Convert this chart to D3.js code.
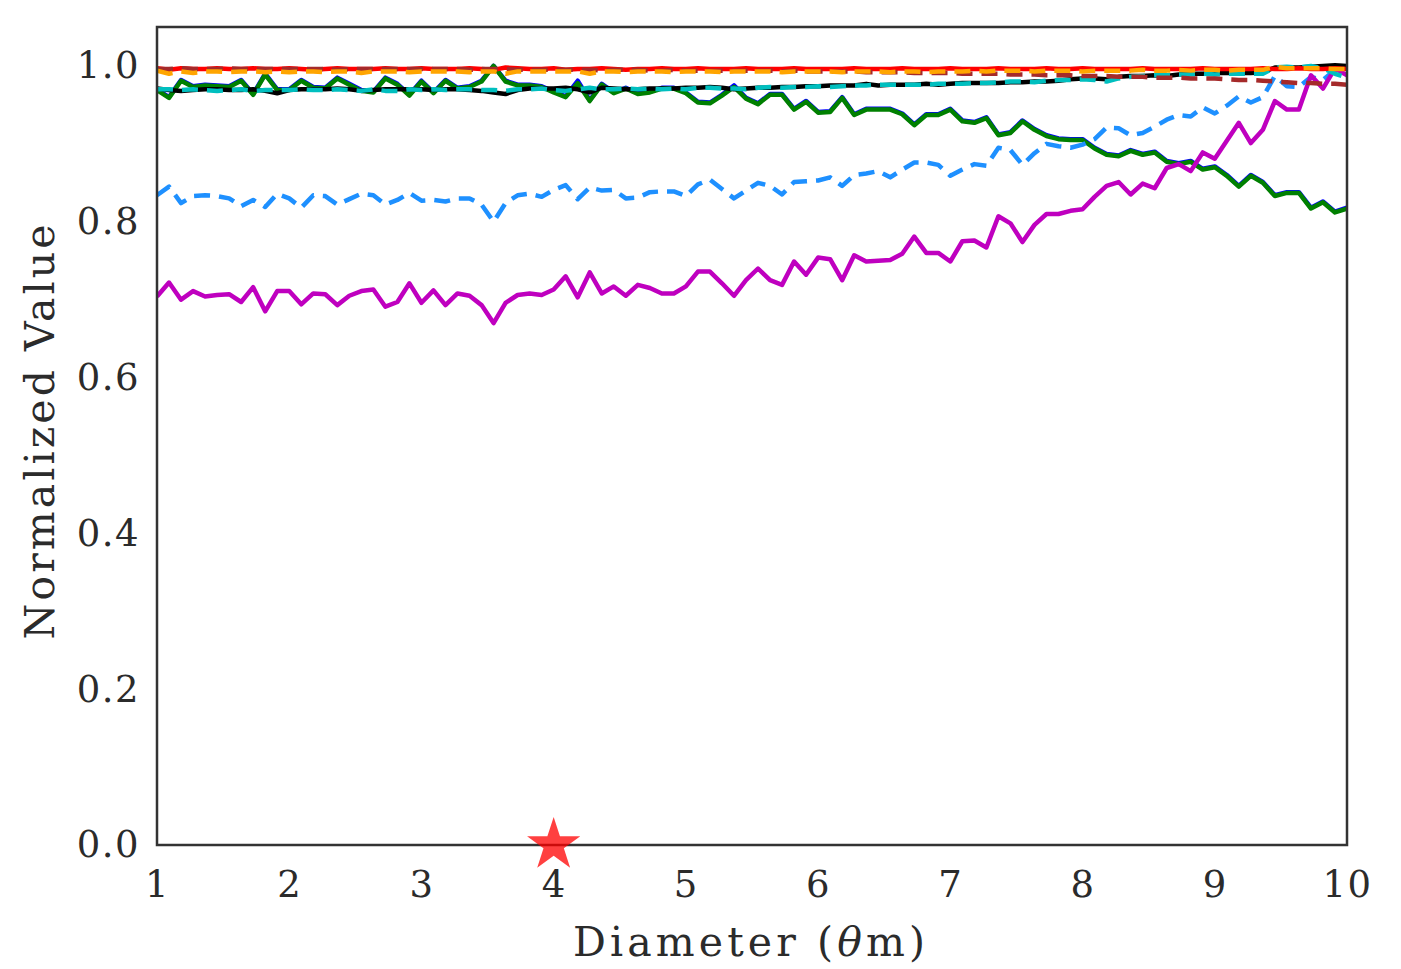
<!DOCTYPE html>
<html><head><meta charset="utf-8">
<script src="https://cdn.jsdelivr.net/npm/d3@7"></script>
<style>body{margin:0;background:#fff;} svg{display:block;}</style>
</head><body>
<svg id="chart" width="1401" height="969"></svg>
<script>
const xTicks = [1,2,3,4,5,6,7,8,9,10];
const yTicks = [0.0,0.2,0.4,0.6,0.8,1.0];
const nPts = 100;
const diameters = d3.range(nPts).map(i => 1 + i*9/(nPts-1));

const blueVals = [0.970,0.960,0.982,0.974,0.976,0.975,0.974,0.982,0.964,0.990,
0.970,0.970,0.982,0.973,0.972,0.985,0.977,0.969,0.967,0.985,
0.977,0.963,0.981,0.966,0.982,0.972,0.974,0.981,1.000,0.981,
0.976,0.976,0.974,0.967,0.961,0.981,0.956,0.977,0.966,0.972,
0.965,0.967,0.972,0.972,0.966,0.954,0.953,0.963,0.975,0.959,
0.952,0.964,0.964,0.945,0.955,0.941,0.942,0.960,0.938,0.945,
0.945,0.945,0.939,0.925,0.938,0.938,0.945,0.930,0.928,0.934,
0.912,0.915,0.930,0.919,0.911,0.907,0.906,0.906,0.895,0.887,
0.885,0.892,0.887,0.890,0.878,0.875,0.878,0.868,0.871,0.860,
0.846,0.860,0.851,0.834,0.838,0.838,0.818,0.826,0.813,0.818];
const greenVals = [0.969,0.959,0.981,0.973,0.975,0.974,0.973,0.981,0.963,0.989,
0.969,0.969,0.981,0.972,0.971,0.984,0.976,0.968,0.966,0.984,
0.976,0.962,0.980,0.965,0.981,0.971,0.973,0.980,1.000,0.980,
0.975,0.975,0.973,0.966,0.960,0.978,0.955,0.976,0.965,0.971,
0.964,0.966,0.971,0.971,0.965,0.953,0.952,0.962,0.973,0.958,
0.951,0.963,0.963,0.944,0.954,0.940,0.941,0.959,0.937,0.944,
0.944,0.944,0.938,0.924,0.937,0.937,0.944,0.929,0.927,0.933,
0.911,0.914,0.929,0.918,0.910,0.906,0.905,0.905,0.894,0.886,
0.884,0.891,0.886,0.889,0.877,0.874,0.877,0.867,0.870,0.859,
0.845,0.859,0.850,0.833,0.837,0.837,0.817,0.825,0.812,0.817];
const dodgerVals = [0.834,0.845,0.824,0.833,0.834,0.833,0.830,0.820,0.828,0.819,
0.836,0.830,0.818,0.834,0.833,0.822,0.829,0.836,0.834,0.822,
0.828,0.837,0.827,0.828,0.826,0.830,0.830,0.822,0.800,0.824,
0.834,0.836,0.832,0.841,0.847,0.829,0.844,0.840,0.841,0.830,
0.831,0.838,0.839,0.839,0.833,0.848,0.854,0.842,0.830,0.840,
0.850,0.846,0.835,0.851,0.852,0.853,0.857,0.846,0.860,0.862,
0.865,0.857,0.867,0.876,0.876,0.873,0.859,0.867,0.874,0.872,
0.895,0.892,0.873,0.888,0.900,0.897,0.895,0.899,0.906,0.921,
0.920,0.911,0.914,0.922,0.931,0.937,0.935,0.947,0.939,0.949,
0.961,0.953,0.960,0.987,0.974,0.973,0.986,0.982,0.995,0.999];
const magentaVals = [0.704,0.722,0.700,0.711,0.704,0.706,0.707,0.697,0.716,0.685,
0.711,0.711,0.694,0.708,0.707,0.693,0.705,0.711,0.713,0.691,
0.697,0.721,0.696,0.712,0.693,0.708,0.705,0.693,0.670,0.696,
0.706,0.708,0.706,0.713,0.730,0.703,0.735,0.708,0.717,0.705,
0.719,0.715,0.708,0.708,0.717,0.736,0.736,0.721,0.705,0.725,
0.740,0.725,0.719,0.749,0.732,0.754,0.752,0.725,0.757,0.749,
0.750,0.751,0.759,0.781,0.760,0.760,0.749,0.775,0.776,0.767,
0.807,0.798,0.774,0.796,0.810,0.810,0.814,0.816,0.832,0.846,
0.851,0.835,0.849,0.843,0.869,0.874,0.865,0.889,0.881,0.904,
0.927,0.901,0.918,0.955,0.944,0.944,0.988,0.971,0.997,0.988];
const blackVals = [0.971,0.969,0.968,0.969,0.970,0.970,0.969,0.969,0.970,0.968,
0.965,0.969,0.970,0.970,0.970,0.971,0.970,0.968,0.969,0.970,
0.970,0.970,0.970,0.969,0.970,0.970,0.969,0.968,0.966,0.964,
0.969,0.971,0.971,0.971,0.972,0.970,0.966,0.972,0.971,0.970,
0.970,0.971,0.971,0.971,0.972,0.972,0.973,0.972,0.970,0.971,
0.972,0.972,0.973,0.973,0.974,0.974,0.975,0.975,0.975,0.977,
0.975,0.976,0.976,0.976,0.977,0.976,0.977,0.978,0.978,0.978,
0.978,0.979,0.979,0.980,0.980,0.981,0.983,0.984,0.984,0.983,
0.986,0.987,0.987,0.988,0.987,0.989,0.990,0.990,0.991,0.991,
0.991,0.991,0.992,0.998,0.998,0.998,0.999,1.000,1.001,1.000];
const cyanVals = [0.970,0.970,0.969,0.970,0.969,0.968,0.969,0.970,0.968,0.969,
0.969,0.969,0.970,0.969,0.969,0.970,0.969,0.968,0.970,0.968,
0.968,0.970,0.969,0.970,0.969,0.970,0.970,0.969,0.969,0.968,
0.970,0.970,0.971,0.969,0.968,0.970,0.972,0.970,0.970,0.971,
0.970,0.971,0.970,0.971,0.970,0.972,0.972,0.971,0.971,0.970,
0.972,0.973,0.972,0.973,0.973,0.974,0.973,0.974,0.975,0.975,
0.976,0.976,0.976,0.976,0.976,0.977,0.977,0.977,0.978,0.978,
0.979,0.980,0.980,0.979,0.981,0.982,0.982,0.983,0.982,0.980,
0.984,0.986,0.987,0.988,0.988,0.989,0.989,0.990,0.989,0.990,
0.990,0.990,0.990,0.998,0.999,0.998,1.000,0.997,0.990,0.985];
const redVals = [0.997,0.995,0.997,0.996,0.996,0.997,0.996,0.996,0.997,0.996,
0.996,0.997,0.996,0.995,0.996,0.997,0.996,0.996,0.996,0.997,
0.996,0.996,0.997,0.996,0.996,0.996,0.997,0.996,0.995,0.998,
0.997,0.996,0.996,0.997,0.995,0.996,0.996,0.997,0.996,0.995,
0.996,0.996,0.997,0.996,0.996,0.997,0.996,0.996,0.996,0.997,
0.996,0.996,0.996,0.997,0.996,0.996,0.996,0.996,0.997,0.996,
0.996,0.996,0.997,0.996,0.996,0.996,0.997,0.996,0.996,0.996,
0.997,0.996,0.996,0.996,0.997,0.996,0.996,0.997,0.996,0.996,
0.996,0.996,0.997,0.996,0.996,0.996,0.996,0.997,0.996,0.996,
0.996,0.996,0.997,0.996,0.996,0.997,0.996,0.996,0.997,0.996];
const brownVals = [0.996,0.996,0.997,0.996,0.996,0.996,0.997,0.996,0.996,0.996,
0.996,0.996,0.996,0.996,0.996,0.995,0.996,0.996,0.996,0.996,
0.996,0.996,0.996,0.996,0.996,0.996,0.995,0.996,0.996,0.996,
0.995,0.995,0.995,0.995,0.995,0.995,0.995,0.994,0.995,0.995,
0.995,0.994,0.994,0.995,0.994,0.994,0.994,0.994,0.994,0.994,
0.994,0.994,0.993,0.994,0.993,0.993,0.993,0.993,0.993,0.992,
0.992,0.992,0.992,0.991,0.991,0.991,0.991,0.990,0.990,0.990,
0.990,0.989,0.989,0.989,0.988,0.988,0.988,0.987,0.987,0.987,
0.986,0.986,0.986,0.985,0.985,0.985,0.984,0.984,0.984,0.983,
0.982,0.982,0.981,0.980,0.979,0.978,0.978,0.977,0.977,0.976];
const orangeVals = [0.994,0.990,0.993,0.991,0.993,0.993,0.992,0.993,0.993,0.992,
0.993,0.992,0.993,0.993,0.992,0.993,0.993,0.991,0.993,0.993,
0.993,0.992,0.993,0.993,0.993,0.993,0.992,0.993,0.993,0.990,
0.993,0.993,0.993,0.993,0.993,0.993,0.990,0.993,0.993,0.992,
0.993,0.993,0.993,0.992,0.993,0.993,0.993,0.992,0.993,0.993,
0.993,0.993,0.992,0.993,0.993,0.993,0.993,0.992,0.993,0.993,
0.993,0.992,0.993,0.993,0.992,0.993,0.993,0.993,0.994,0.993,
0.994,0.994,0.994,0.993,0.994,0.994,0.994,0.993,0.994,0.994,
0.994,0.994,0.995,0.994,0.994,0.995,0.994,0.995,0.995,0.994,
0.995,0.995,0.995,0.999,0.997,0.997,0.997,0.997,0.996,0.996];

const starPoint = {x: 4, y: 0};

const series = [
  {vals: blueVals, color: "#0000ff", dash: null},
  {vals: greenVals, color: "#008000", dash: null},
  {vals: dodgerVals, color: "#1e90ff", dash: "16,9"},
  {vals: magentaVals, color: "#bf00bf", dash: null},
  {vals: blackVals, color: "#000000", dash: null},
  {vals: cyanVals, color: "#00bfbf", dash: "16,9"},
  {vals: redVals, color: "#ff0000", dash: null},
  {vals: brownVals, color: "#a52a2a", dash: "16,9"},
  {vals: orangeVals, color: "#ffa500", dash: "16,9"}
];

const svg = d3.select("#chart");
const L = 157, R = 1347, T = 27, B = 845;
const x = d3.scaleLinear().domain([1,10]).range([L,R]);
const y = d3.scaleLinear().domain([0,1.05]).range([B,T]);
const font = "'DejaVu Serif', serif";
const textColor = "#2b2b2b";

svg.append("defs").append("clipPath").attr("id","clip")
  .append("rect").attr("x",L).attr("y",T).attr("width",R-L).attr("height",B-T);

const line = d3.line().x((d,i)=>x(diameters[i])).y(d=>y(d));
const g = svg.append("g").attr("clip-path","url(#clip)");
series.forEach(s => {
  g.append("path").attr("d", line(s.vals))
    .attr("fill","none").attr("stroke",s.color).attr("stroke-width",4.5)
    .attr("stroke-linejoin","round")
    .attr("stroke-dasharray", s.dash);
});

// frame
svg.append("rect").attr("x",L).attr("y",T).attr("width",R-L).attr("height",B-T)
  .attr("fill","none").attr("stroke","#333").attr("stroke-width",2.5);

// axes
const xAxis = svg.append("g").attr("transform",`translate(0,${B})`)
  .call(d3.axisBottom(x).tickValues(xTicks).tickFormat(d3.format("d")).tickSize(0).tickPadding(26));
const yAxis = svg.append("g").attr("transform",`translate(${L},0)`)
  .call(d3.axisLeft(y).tickValues(yTicks).tickFormat(d3.format(".1f")).tickSize(0).tickPadding(17));
[xAxis,yAxis].forEach(a=>{
  a.select(".domain").remove();
  a.selectAll("text").attr("font-family",font).attr("font-size",37).attr("fill",textColor)
    .attr("letter-spacing",1.5);
});

// star marker
const starR = 28;
const starPts = d3.range(10).map(k=>{
  const r = k%2===0 ? starR : starR*0.382;
  const ang = -Math.PI/2 + k*Math.PI/5;
  return [r*Math.cos(ang), r*Math.sin(ang)];
});
svg.append("path").attr("d", d3.line()(starPts)+"Z")
  .attr("transform",`translate(${x(starPoint.x)},${y(starPoint.y)})`)
  .attr("fill","#ff0000").attr("fill-opacity",0.75);

// labels
const xl = svg.append("text").attr("x",749).attr("y",956).attr("text-anchor","middle")
  .attr("font-family",font).attr("font-size",41).attr("fill",textColor)
  .attr("textLength",352).attr("lengthAdjust","spacing");
xl.append("tspan").text("Diameter (");
xl.append("tspan").attr("font-style","italic").text("θ");
xl.append("tspan").text("m)");
svg.append("text").attr("transform","translate(54,432) rotate(-90)").attr("text-anchor","middle")
  .attr("font-family",font).attr("font-size",41).attr("fill",textColor)
  .attr("textLength",415).attr("lengthAdjust","spacing")
  .text("Normalized Value");
</script>
</body></html>
